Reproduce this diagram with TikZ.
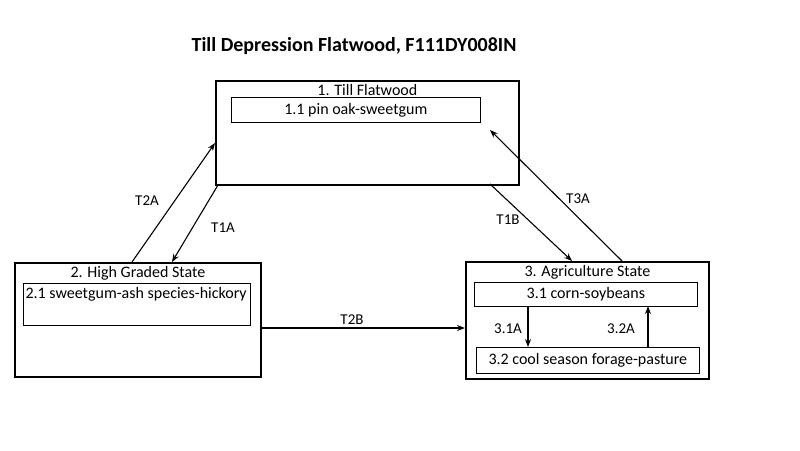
\documentclass[tikz,border=0pt]{standalone}
\usepackage{fontspec}
\setmainfont{Carlito}
\usetikzlibrary{positioning,arrows.meta}
\tikzset{
  state/.style={draw, line width=1.8pt, anchor=north west, inner sep=0pt},
  comm/.style={draw, line width=0.7pt, anchor=north west, inner sep=3pt, align=left},
  tr/.style={-{Stealth[length=8pt,width=6pt]}, line width=1.1pt},
  lbl/.style={font=\fontsize{15}{18}\selectfont}
}
\begin{document}
\begin{tikzpicture}[x=1pt, y=-1pt, font=\fontsize{16}{19}\selectfont]
  \useasboundingbox (0,0) rectangle (800,450);

  \node[font=\bfseries\fontsize{20}{24}\selectfont] (title) at (354,46) {Till Depression Flatwood, F111DY008IN};

  % states
  \node[state, minimum width=303pt, minimum height=104pt] (s1) at (215,80) {};
  \node[anchor=north] at (s1.north) [yshift=-1pt] {1. Till Flatwood};
  \node[comm, minimum width=249pt, minimum height=25pt] (c11) at (231,97) {};
  \node at (c11.center) {1.1 pin oak-sweetgum};

  \node[state, minimum width=246pt, minimum height=114pt] (s2) at (14,262) {};
  \node[anchor=north] at (s2.north) [yshift=-1pt] {2. High Graded State};
  \node[comm, minimum width=227pt, minimum height=42pt] (c21) at (23,283) {};
  \node[anchor=north west] at (c21.north west) [xshift=-1pt,yshift=-1pt] {2.1 sweetgum-ash species-hickory};

  \node[state, minimum width=243pt, minimum height=117pt] (s3) at (465,261) {};
  \node[anchor=north] at (s3.north) [yshift=-1pt] {3. Agriculture State};
  \node[comm, minimum width=223pt, minimum height=24pt] (c31) at (474,282) {};
  \node at (c31.center) {3.1 corn-soybeans};
  \node[comm, minimum width=223pt, minimum height=26pt] (c32) at (476,347) {};
  \node at (c32.center) {3.2 cool season forage-pasture};

  % end points
  \coordinate (a1) at (132,262); \coordinate (b1) at (215,143);
  \coordinate (a2) at (218,185); \coordinate (b2) at (172,262);
  \coordinate (a3) at (490,184); \coordinate (b3) at (572,261);
  \coordinate (a4) at (622,261); \coordinate (b4) at (490,130);
  \coordinate (a5) at (260,328); \coordinate (b5) at (465,328);
  \coordinate (a6) at (528,306); \coordinate (b6) at (528,347);
  \coordinate (a7) at (648,347); \coordinate (b7) at (648,306);

  \draw[tr] (a1) -- (b1);
  \draw[tr] (a2) -- (b2);
  \draw[tr] (a3) -- (b3);
  \draw[tr] (a4) -- (b4);
  \draw[tr] (a5) -- (b5);
  \draw[tr] (a6) -- (b6);
  \draw[tr] (a7) -- (b7);

  \node[lbl] (t2a) at (147,201) {T2A};
  \node[lbl] (t1a) at (223,228) {T1A};
  \node[lbl] (t1b) at (508,220) {T1B};
  \node[lbl] (t3a) at (578,199) {T3A};
  \node[lbl] (t2b) at (352,320) {T2B};
  \node[lbl] (r31) at (508,329) {3.1A};
  \node[lbl] (r32) at (621,329) {3.2A};
\end{tikzpicture}
\end{document}
